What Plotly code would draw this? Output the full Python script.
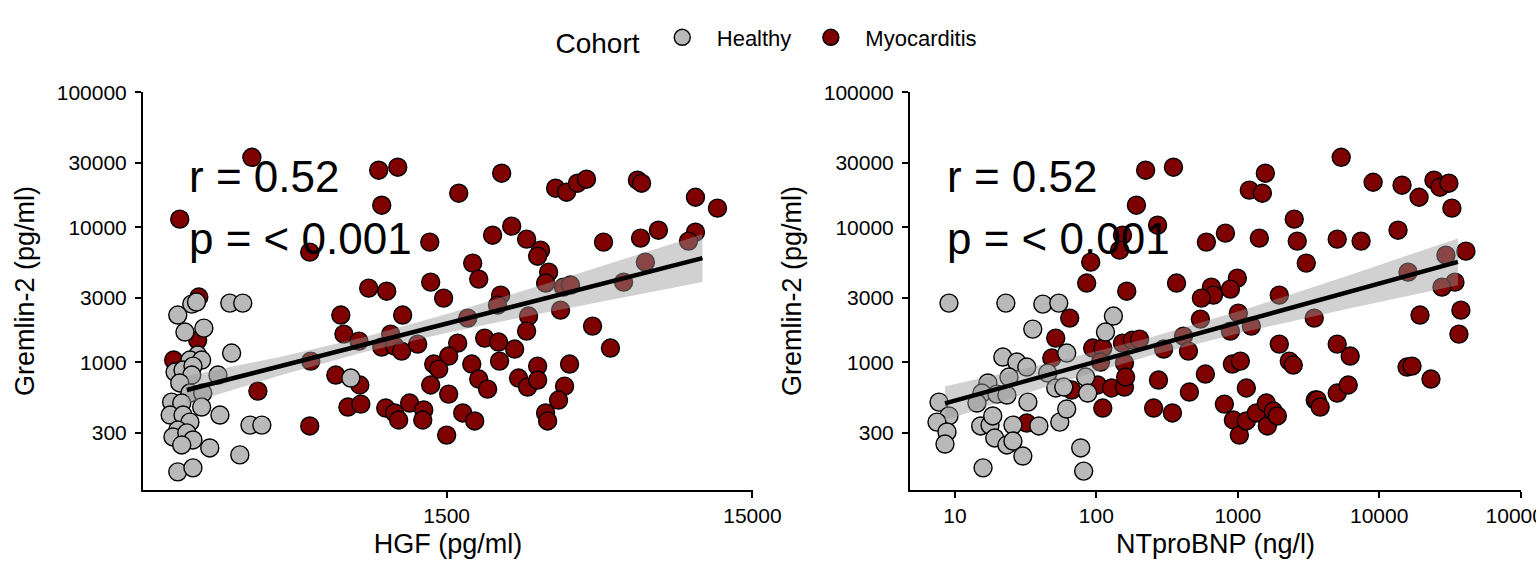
import plotly.graph_objects as go

# ---------------- data: left panel (HGF vs Gremlin-2) ----------------
hgf_healthy = [220, 228, 293, 323, 198, 209, 241, 297, 230, 217, 237, 194, 206, 222, 268, 220,
               201, 217, 239, 189, 237, 204, 187, 206, 272, 217, 341, 373, 198, 191, 212, 222,
               204, 252, 316, 198, 222, 729]
grem_hgf_healthy = [2705, 2800, 2750, 2750, 2245, 1679, 1795, 1174, 1135, 1042, 1042, 849, 879, 940, 807, 807,
                    705, 594, 594, 509, 468, 501, 408, 408, 408, 362, 344, 344, 316, 281, 301, 267,
                    245, 233, 207, 155, 166, 767]

hgf_myo = [346, 201, 899, 1038, 920, 535, 1643, 2270, 3408, 3700, 4018, 4300, 6310, 6510, 9770, 11530,
           7390, 6460, 9770, 9270, 6700, 5685, 4888, 2448, 2120, 2739, 3042, 2976, 1321, 1825, 1910, 1330,
           834, 955, 1466, 3233, 3160, 3616, 3812, 2252, 232, 2200, 676, 1077, 2780, 3537, 4500, 692,
           775, 984, 920, 1014, 1069, 1206, 1630, 1758, 1997, 2218, 2503, 2739, 5150, 539, 1523, 2234,
           1361, 1413, 1812, 2976, 3785, 651, 780, 362, 1330, 1523, 1910, 2042, 2578, 2760, 2976, 3645,
           3483, 713, 786, 948, 1135, 1014, 1045, 1262, 1253, 1693, 1853, 3160, 3208, 535, 1500, 230, 192]
grem_hgf_myo = [33000, 11500, 26480, 27870, 14590, 6560, 17910, 25160, 19500, 18200, 21230, 22730, 22340, 21230, 16710, 13870,
                9530, 8320, 9210, 7910, 5530, 3930, 7780, 10210, 8750, 8180, 6780, 6120, 7780, 5440, 4140, 3930,
                3550, 3370, 2995, 4660, 3870, 3610, 3740, 3150, 3050, 2660, 2245, 2245, 2205, 2440, 1858, 1622,
                1439, 1622, 1300, 1322, 1214, 1368, 1391, 2130, 1515, 1416, 1257, 1707, 1279, 1024, 1116, 1024,
                973, 893, 973, 940, 973, 807, 681, 614, 681, 583, 754, 635, 767, 658, 741, 668,
                527, 468, 492, 460, 501, 423, 375, 445, 375, 423, 369, 423, 369, 339, 290, 1464, 1042]

# ---------------- data: right panel (NTproBNP vs Gremlin-2) ----------------
nt_healthy = [9.07, 22.9, 41.8, 54.2, 35.5, 132, 116, 21.8, 27.4, 32.2, 24.1, 61.7, 45.3, 17.1, 15.5, 19.8,
              23.3, 14.3, 7.71, 9.07, 7.46, 8.78, 8.50, 15.2, 17.7, 18.5, 25.7, 32.8, 39.2, 55.1, 61.7, 51.6,
              58.8, 84.0, 86.9, 19.1, 23.3, 25.7, 30.2, 77.5, 15.8, 81.3]
grem_nt_healthy = [2750, 2750, 2705, 2750, 1766, 2205, 1679, 1097, 1007, 925, 780, 1174, 835, 705, 594, 583,
                   574, 501, 509, 402, 362, 306, 249, 339, 344, 402, 344, 509, 339, 362, 452, 647,
                   658, 780, 594, 276, 245, 262, 203, 233, 166, 157]

nt_myo = [85.4, 164, 64.8, 51.6, 48.4, 94.2, 111, 107, 153, 180, 158, 66.9, 102, 128, 158, 161,
          111, 32.2, 5387, 223, 351, 192, 1207, 1492, 1567, 9060, 14510, 19140, 24400, 26900, 31120, 32680,
          13590, 2508, 2634, 5050, 7450, 1421, 818, 600, 271, 153, 146, 91.2, 3051, 41040, 29650, 16000,
          34340, 27800, 369, 993, 887, 651, 673, 553, 1967, 3473, 19440, 37850, 36640, 544, 1009, 887,
          1247, 202, 299, 413, 448, 1967, 5050, 6240, 916, 1043, 2314, 2468, 15740, 17070, 23240, 275,
          590, 1150, 3530, 5050, 6040, 455, 254, 345, 804, 931, 1026, 1150, 1353, 1592, 1619, 1783,
          1905, 3646, 3828]
grem_nt_myo = [3870, 3370, 2130, 1515, 1079, 1279, 1279, 1007, 1391, 1464, 990, 625, 681, 647, 658, 780,
               460, 356, 33000, 26480, 27870, 14590, 18850, 17910, 25160, 21580, 20510, 16710, 22340, 19820, 21230, 13870,
               9530, 11500, 7910, 8180, 7910, 8320, 9060, 7780, 10380, 8750, 6780, 5530, 5440, 6670, 6230, 4660,
               3930, 3610, 3870, 4210, 3490, 3610, 3150, 2995, 3150, 2130, 2245, 2440, 1622, 2094, 2317, 1707,
               1858, 1489, 1257, 1567, 1214, 1368, 1368, 1116, 973, 1024, 1024, 957, 925, 940, 754, 741,
               821, 647, 527, 594, 681, 604, 460, 423, 492, 375, 290, 369, 423, 501, 339, 437,
               402, 527, 468]

# ---------------- regression fits ----------------
hgf_fit_x = [212, 427, 797, 1534, 3020, 5513, 10296]
hgf_fit_y = [625, 937, 1345, 1966, 2909, 4125, 5918]
hgf_fit_lo = [492, 800, 1184, 1673, 2292, 2995, 3933]
hgf_fit_hi = [793, 1098, 1528, 2311, 3693, 5680, 8907]

nt_fit_x = [8.5, 46.8, 237.8, 1207, 6133, 36050]
nt_fit_y = [498, 817, 1305, 2084, 3334, 5557]
nt_fit_lo = [373, 673, 1119, 1716, 2508, 3724]
nt_fit_hi = [666, 992, 1521, 2530, 4430, 8289]

# ---------------- labels ----------------
cohorts = ["Healthy", "Myocarditis"]
y_ticks = [300, 1000, 3000, 10000, 30000, 100000]
y_ticktext = ["300", "1000", "3000", "10000", "30000", "100000"]
hgf_ticks = [1500, 15000]
hgf_ticktext = ["1500", "15000"]
nt_ticks = [10, 100, 1000, 10000, 100000]
nt_ticktext = ["10", "100", "1000", "10000", "100000"]
stat_lines = ["r = 0.52", "p = < 0.001"]

FONT = "Liberation Sans, Arial, sans-serif"
GREY = "#B9B9B9"
RED = "#7F0000"

fig = go.Figure()

def add_panel(xh, yh, xm, ym, fx, fy, flo, fhi, xa, ya, legend):
    fig.add_trace(go.Scatter(x=xm, y=ym, mode="markers", name=cohorts[1], legendrank=2,
                             showlegend=legend, xaxis=xa, yaxis=ya,
                             marker=dict(size=18, color=RED, line=dict(color="black", width=1.4))))
    fig.add_trace(go.Scatter(x=xh, y=yh, mode="markers", name=cohorts[0], legendrank=1,
                             showlegend=legend, xaxis=xa, yaxis=ya,
                             marker=dict(size=18, color=GREY, line=dict(color="black", width=1.4))))
    fig.add_trace(go.Scatter(x=list(fx) + list(fx)[::-1], y=list(fhi) + list(flo)[::-1],
                             fill="toself", fillcolor="rgba(153,153,153,0.45)", mode="lines",
                             line=dict(width=0), hoverinfo="skip", showlegend=False,
                             xaxis=xa, yaxis=ya))
    fig.add_trace(go.Scatter(x=fx, y=fy, mode="lines", line=dict(color="black", width=4.5),
                             showlegend=False, xaxis=xa, yaxis=ya))

add_panel(hgf_healthy, grem_hgf_healthy, hgf_myo, grem_hgf_myo,
          hgf_fit_x, hgf_fit_y, hgf_fit_lo, hgf_fit_hi, "x", "y", True)
add_panel(nt_healthy, grem_nt_healthy, nt_myo, grem_nt_myo,
          nt_fit_x, nt_fit_y, nt_fit_lo, nt_fit_hi, "x2", "y2", False)

axis_common = dict(showgrid=False, zeroline=False, showline=True, linecolor="black", linewidth=2,
                   ticks="outside", ticklen=6, tickwidth=2, tickcolor="black", automargin=False,
                   ticklabeloverflow="allow",
                   tickfont=dict(family=FONT, size=21, color="black"),
                   title_font=dict(family=FONT, size=27, color="black"))

YDOM = [1 - 490 / 576, 1 - 92 / 576]
YRANGE = [2.056, 5.002]

fig.update_layout(
    width=1536, height=576,
    margin=dict(l=0, r=0, t=0, b=0, autoexpand=False),
    paper_bgcolor="white", plot_bgcolor="white",
    font=dict(family=FONT, color="black"),
    xaxis=dict(type="log", domain=[143 / 1536, 753 / 1536], range=[2.183, 4.178],
               tickvals=hgf_ticks, ticktext=hgf_ticktext, anchor="y",
               title=dict(text="HGF (pg/ml)", standoff=8), **axis_common),
    yaxis=dict(type="log", domain=YDOM, range=YRANGE, tickvals=y_ticks, ticktext=y_ticktext,
               anchor="x", ticklabelstandoff=4,
               title=dict(text="Gremlin-2 (pg/ml)", standoff=14), **axis_common),
    xaxis2=dict(type="log", domain=[910 / 1536, 1521 / 1536], range=[0.682, 5.003],
                tickvals=nt_ticks, ticktext=nt_ticktext, anchor="y2",
                title=dict(text="NTproBNP (ng/l)", standoff=8), **axis_common),
    yaxis2=dict(type="log", domain=YDOM, range=YRANGE, tickvals=y_ticks, ticktext=y_ticktext,
                anchor="x2", ticklabelstandoff=4,
                title=dict(text="Gremlin-2 (pg/ml)", standoff=14), **axis_common),
    legend=dict(orientation="h", x=0.5, xanchor="center", y=1 - 40 / 576, yanchor="middle",
                title=dict(text="Cohort", font=dict(family=FONT, size=28, color="black")),
                font=dict(family=FONT, size=22, color="black"), itemsizing="trace",
                itemwidth=59, bgcolor="rgba(0,0,0,0)"),
)

for xref, xpos in (("x domain", (187 - 143) / 610), ("x2 domain", (945 - 910) / 611)):
    yref = "y domain" if xref == "x domain" else "y2 domain"
    for i, txt in enumerate(stat_lines):
        ypix = 176 if i == 0 else 238
        fig.add_annotation(text=txt, xref=xref, yref=yref, x=xpos,
                           y=(490 - ypix) / 398, xanchor="left", yanchor="middle",
                           showarrow=False, font=dict(family=FONT, size=44, color="black"))

fig.write_html("out.html", config={"displayModeBar": False},
               post_script="document.body.style.margin='0';document.body.style.overflow='hidden';")
